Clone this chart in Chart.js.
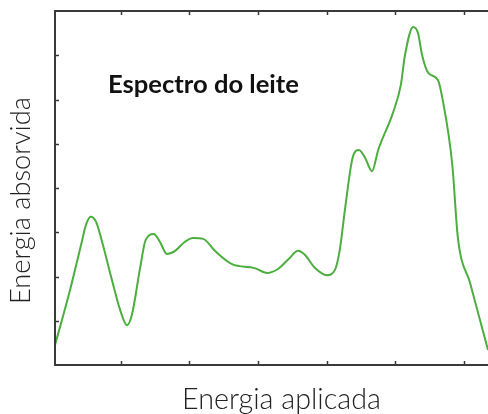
<!DOCTYPE html>
<html>
<head>
<meta charset="utf-8">
<script src="https://cdn.jsdelivr.net/npm/chart.js@4.4.1/dist/chart.umd.min.js"></script>
<style>
  html, body { margin: 0; padding: 0; background: #fff; overflow: hidden; }
  canvas { display: block; }
</style>
</head>
<body>
<canvas id="chart" width="488" height="414"></canvas>
<script>
// values (arbitrary units)
const energiaAplicada = [
  0.04, 0.26, 0.43, 0.49, 0.56, 0.64, 0.72, 0.87, 0.99, 1.09,
  1.16, 1.28, 1.36, 1.48, 1.57, 1.67, 1.79, 1.93, 2.05, 2.20,
  2.37, 2.62, 2.95, 3.13, 3.29, 3.46, 3.58, 3.68, 3.83, 4.00,
  4.12, 4.19, 4.27, 4.38, 4.47, 4.56, 4.66, 4.75, 4.97, 5.08,
  5.14, 5.26, 5.33, 5.39, 5.48, 5.62, 5.69, 5.83, 5.91, 6.09,
  6.35
];
const energiaAbsorvida = [
  0.45, 1.70, 2.78, 3.16, 3.35, 3.23, 2.82, 1.92, 1.24, 0.90,
  1.13, 2.19, 2.82, 2.96, 2.78, 2.51, 2.58, 2.78, 2.87, 2.85,
  2.58, 2.28, 2.19, 2.08, 2.17, 2.42, 2.58, 2.49, 2.19, 2.03,
  2.15, 2.60, 3.57, 4.70, 4.86, 4.68, 4.38, 4.86, 5.72, 6.33,
  7.00, 7.64, 7.50, 7.00, 6.60, 6.44, 5.99, 4.52, 2.89, 1.85,
  0.34
];
const xTickValues = [1, 2, 3, 4, 5, 6];
const yTickValues = [1, 2, 3, 4, 5, 6, 7];

const chartTitle = 'Espectro do leite';
const xTitle = 'Energia aplicada';
const yTitle = 'Energia absorvida';

const FONT = 'Lato, "DejaVu Sans", sans-serif';
const AXIS_COLOR = '#3a3a3a';

// pick a font size so the text fills a given width
function fitFont(ctx, text, width, weight) {
  let size = 30;
  ctx.font = `${weight} ${size}px ${FONT}`;
  size = size * width / ctx.measureText(text).width;
  return `${weight} ${size.toFixed(2)}px ${FONT}`;
}

const frameAndText = {
  id: 'frameAndText',
  afterDraw(chart) {
    const { ctx, chartArea: a, scales: { x, y } } = chart;
    ctx.save();

    // box (left, top, bottom)
    ctx.strokeStyle = AXIS_COLOR;
    ctx.lineWidth = 2;
    ctx.beginPath();
    ctx.moveTo(a.right + 2, a.top);
    ctx.lineTo(a.left, a.top);
    ctx.lineTo(a.left, a.bottom);
    ctx.lineTo(a.right + 2, a.bottom);
    ctx.stroke();

    // inward ticks
    ctx.lineWidth = 1.5;
    ctx.beginPath();
    yTickValues.forEach(v => {
      const py = Math.round(y.getPixelForValue(v)) + 0.5;
      ctx.moveTo(a.left, py);
      ctx.lineTo(a.left + 4, py);
    });
    xTickValues.forEach(v => {
      const px = Math.round(x.getPixelForValue(v)) + 0.5;
      ctx.moveTo(px, a.bottom);
      ctx.lineTo(px, a.bottom - 4);
      ctx.moveTo(px, a.top);
      ctx.lineTo(px, a.top + 4);
    });
    ctx.stroke();

    // texts
    ctx.textBaseline = 'alphabetic';
    ctx.textAlign = 'left';

    ctx.fillStyle = '#111';
    ctx.font = fitFont(ctx, chartTitle, 191, 'bold');
    ctx.fillText(chartTitle, 108, 93);

    ctx.fillStyle = '#222';
    ctx.font = fitFont(ctx, xTitle, 199, '300');
    ctx.fillText(xTitle, 182, 409);

    ctx.translate(29.5, 304);
    ctx.rotate(-Math.PI / 2);
    ctx.font = fitFont(ctx, yTitle, 207, '300');
    ctx.fillText(yTitle, 0, 0);

    ctx.restore();
  }
};

new Chart(document.getElementById('chart'), {
  type: 'line',
  data: {
    datasets: [{
      data: energiaAplicada.map((v, i) => ({ x: v, y: energiaAbsorvida[i] })),
      borderColor: '#4cae3e',
      borderWidth: 2,
      pointRadius: 0,
      fill: false,
      cubicInterpolationMode: 'monotone'
    }]
  },
  options: {
    responsive: false,
    animation: false,
    layout: { padding: { left: 55, top: 11, right: 0, bottom: 49 } },
    scales: {
      x: { type: 'linear', min: 0.04, max: 6.35, display: false },
      y: { min: 0, max: 8, display: false }
    },
    plugins: {
      legend: { display: false },
      tooltip: { enabled: false },
      title: { display: false }
    }
  },
  plugins: [frameAndText]
});
</script>
</body>
</html>
